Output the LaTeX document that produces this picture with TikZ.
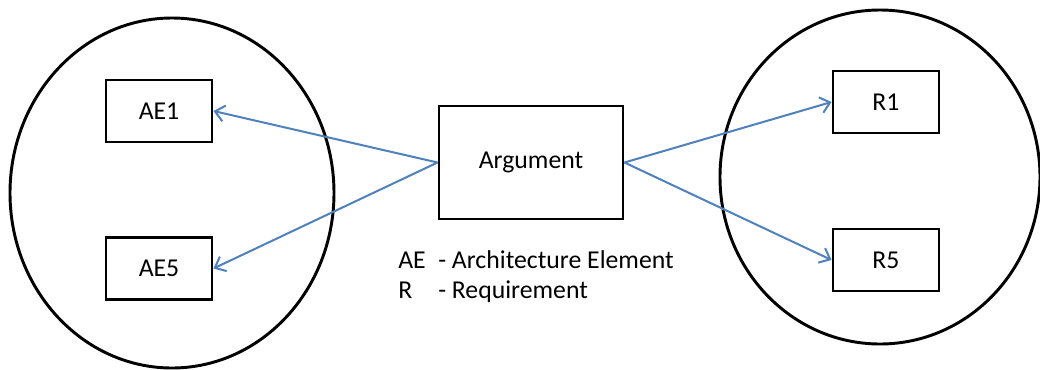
\documentclass[tikz,border=0pt]{standalone}
\usepackage{fontspec}
\setmainfont{Carlito}
\usetikzlibrary{arrows.meta}
\definecolor{accblue}{RGB}{79,129,189}
\begin{document}
\begin{tikzpicture}[x=0.75pt,y=-0.75pt,
  font=\fontsize{19.3}{23}\selectfont,
  grp/.style={draw=black,line width=2.2pt},
  elem/.style={draw=black,line width=2.2pt,minimum width=79.5pt,minimum height=46.5pt,inner sep=0pt},
  arg/.style={draw=black,line width=2.2pt,minimum width=138pt,minimum height=84.75pt,inner sep=0pt},
  link/.style={draw=accblue,line width=1.5pt,-{Straight Barb[length=7pt,width=12pt,line width=1.5pt]}}]
\useasboundingbox (0,0) rectangle (1040,369);
\clip (0,0) rectangle (1040,369);
\fill[white] (0,0) rectangle (1040,369);
\draw[grp] (172,193) ellipse [x radius=162, y radius=175];
\draw[grp] (880,177) ellipse [x radius=160, y radius=167];
\node[elem] (ae1) at (159,111) {AE1};
\node[elem] (ae5) at (159,268.5) {AE5};
\node[elem] (r1) at (886,102) {R1};
\node[elem] (r5) at (886,260) {R5};
\node[arg] (argn) at (531,162.5) {Argument};
\node[anchor=base west,inner sep=0pt] (lg1) at (398,268) {\makebox[30pt][l]{AE}- Architecture Element};
\node[anchor=base west,inner sep=0pt] (lg2) at (398,298) {\makebox[30pt][l]{R}- Requirement};
\draw[link] (argn.west) -- (ae1.east);
\draw[link] (argn.west) -- (ae5.east);
\draw[link] (argn.east) -- (r1.west);
\draw[link] (argn.east) -- (r5.west);
\end{tikzpicture}
\end{document}
